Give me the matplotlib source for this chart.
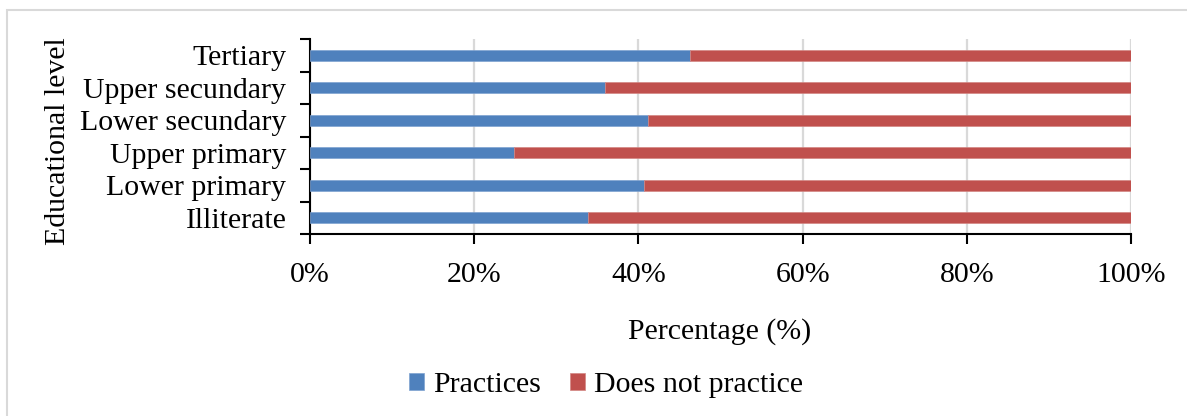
import matplotlib.pyplot as plt
from matplotlib.patches import Rectangle
from matplotlib.ticker import FixedLocator, PercentFormatter

plt.rcParams['font.family'] = ['Liberation Serif', 'DejaVu Serif']

# datos
niveles = ["Illiterate", "Lower primary", "Upper primary",
           "Lower secundary", "Upper secundary", "Tertiary"]
practica = [33.9, 40.7, 24.9, 41.2, 35.9, 46.3]
no_practica = [100 - p for p in practica]
xticks = [0, 20, 40, 60, 80, 100]

fs = 21.5
W, H = 1187, 416
fig = plt.figure(figsize=(W / 100, H / 100), dpi=100)
ax = fig.add_axes([310 / W, 1 - 234 / H, (1131 - 310) / W, (234 - 39) / H])

y = range(len(niveles))
ax.barh(y, practica, height=0.33, color="#4F81BD", label="Practices",
        edgecolor="#7FA3D1", linewidth=0.5, zorder=3)
ax.barh(y, no_practica, left=practica, height=0.33, color="#C0504D",
        label="Does not practice", edgecolor="#D38683", linewidth=0.5, zorder=3)

ax.set_xlim(0, 100)
ax.set_ylim(-0.5, len(niveles) - 0.5)
ax.set_xticks(xticks)
ax.xaxis.set_major_formatter(PercentFormatter(decimals=0))
ax.grid(axis="x", color="#D9D9D9", linewidth=1.6, zorder=0)
ax.set_axisbelow(True)

# marcas entre categorias (estilo excel), etiquetas en el centro
ax.yaxis.set_major_locator(FixedLocator([i - 0.5 for i in range(len(niveles) + 1)]))
ax.yaxis.set_major_formatter(plt.NullFormatter())
ax.yaxis.set_minor_locator(FixedLocator(list(y)))
ax.set_yticklabels(niveles, minor=True)
ax.tick_params(axis="y", which="major", length=7, width=1.5, direction="out")
ax.tick_params(axis="y", which="minor", length=0, pad=17, labelsize=fs)
ax.tick_params(axis="x", length=7, width=1.5, pad=13, labelsize=fs)

for s in ["top", "right"]:
    ax.spines[s].set_visible(False)
for s in ["left", "bottom"]:
    ax.spines[s].set_linewidth(1.5)

fig.text(58 / W, 1 - 141 / H, "Educational level", rotation=90,
         ha="center", va="center", fontsize=fs)
fig.text(720 / W, 1 - 332 / H, "Percentage (%)", ha="center", va="center",
         fontsize=fs)
fig.legend(loc="center", bbox_to_anchor=(606 / W, 1 - 385 / H), ncol=2,
           frameon=False, fontsize=fs, handlelength=0.5, handleheight=0.5,
           handletextpad=0.3, columnspacing=0.95)

# marco gris del grafico
fig.patches.append(Rectangle((7 / W, -0.1), 1.2, 1 - 10 / H + 0.1,
                             transform=fig.transFigure, fill=False,
                             edgecolor="#D9D9D9", linewidth=1.5))

fig.savefig("out.png", dpi=100)
